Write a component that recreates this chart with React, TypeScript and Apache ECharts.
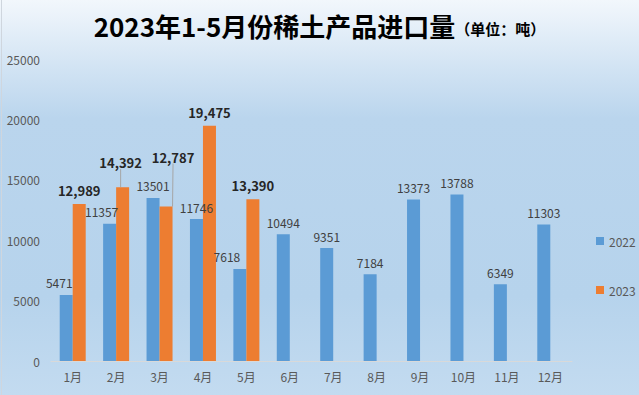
import React, { useEffect, useRef } from "react";
import * as echarts from "echarts";

const months = ["1月", "2月", "3月", "4月", "5月", "6月", "7月", "8月", "9月", "10月", "11月", "12月"];
const values2022 = [5471, 11357, 13501, 11746, 7618, 10494, 9351, 7184, 13373, 13788, 6349, 11303];
const values2023 = [12989, 14392, 12787, 19475, 13390, null, null, null, null, null, null, null];
const seriesNames = ["2022", "2023"];
const titleMain = "2023年1-5月份稀土产品进口量";
const titleUnit = "（单位：吨）";

export default function App() {
  const ref = useRef<HTMLDivElement>(null);
  useEffect(() => {
    const chart = echarts.init(ref.current!, null, { renderer: "svg" });
    const font = "'Noto Sans CJK SC', 'Noto Sans', sans-serif";
    const offsets2022: Record<number, number> = { 0: -7, 1: -8, 4: -13 };
    chart.setOption({
      animation: false,
      backgroundColor: {
        type: "linear",
        x: 0, y: 0, x2: 0, y2: 1,
        colorStops: [
          { offset: 0, color: "#f2f7fc" },
          { offset: 0.3, color: "#bad5ed" },
          { offset: 0.75, color: "#b6d3ec" },
          { offset: 1, color: "#c3dbf0" },
        ],
      },
      title: {
        text: "{a|" + titleMain + "}{b|" + titleUnit + "}",
        left: "center",
        top: 7,
        textStyle: {
          rich: {
            a: { fontFamily: font, fontSize: 26, fontWeight: "bold", color: "#000" },
            b: { fontFamily: font, fontSize: 15, fontWeight: "bold", color: "#000", padding: [6, 0, 0, 0] },
          },
        },
      },
      legend: {
        orient: "vertical",
        left: 591,
        top: 230,
        itemWidth: 8,
        itemHeight: 8,
        itemGap: 37,
        icon: "rect",
        data: seriesNames,
        textStyle: { color: "#595959", fontSize: 12, fontFamily: font },
      },
      grid: { left: 51, right: 67, top: 59, bottom: 34 },
      xAxis: {
        type: "category",
        data: months,
        axisLine: { lineStyle: { color: "#d9d9d9", width: 1 } },
        axisTick: { show: false },
        axisLabel: { color: "#595959", fontSize: 12, fontFamily: font, margin: 9 },
      },
      yAxis: {
        type: "value",
        min: 0,
        max: 25000,
        interval: 5000,
        splitLine: { show: false },
        axisLine: { show: false },
        axisTick: { show: false },
        axisLabel: {
          color: "#595959",
          fontSize: 12,
          fontFamily: font,
          margin: 11,
          formatter: (v: number) => String(v),
        },
      },
      graphic: [
        { type: "line", shape: { x1: 1.5, y1: 0, x2: 1.5, y2: 395 }, style: { stroke: "#cfd6de", lineWidth: 1 } },
      ],
      series: [
        {
          name: seriesNames[0],
          type: "bar",
          barWidth: 13,
          barGap: "0%",
          itemStyle: { color: "#5b9bd5" },
          data: values2022.map((v, i) =>
            offsets2022[i] !== undefined
              ? { value: v, label: { offset: [offsets2022[i], 0] } }
              : v
          ),
          label: {
            show: true,
            position: "top",
            distance: 6,
            color: "#404040",
            fontSize: 12,
            fontFamily: font,
          },
        },
        {
          name: seriesNames[1],
          type: "bar",
          barWidth: 13,
          barGap: "0%",
          itemStyle: { color: "#ed7d31" },
          data: values2023.map((v, i) =>
            i === 1 || i === 2 ? { value: v, labelLine: { show: true } } : v
          ),
          label: {
            show: true,
            position: "top",
            distance: 7,
            color: "#262626",
            fontSize: 13,
            fontWeight: "bold",
            fontFamily: font,
            formatter: (p: any) => (p.value == null ? "" : Number(p.value).toLocaleString("en-US")),
          },
          labelLine: { show: false, lineStyle: { color: "#a6a6a6", width: 1 } },
          labelLayout: (p: any) => {
            if (p.dataIndex === 2) return { dx: 7, dy: -36 };
            if (p.dataIndex === 1) return { dx: -2, dy: -11 };
            return {};
          },
        },
      ],
    });
    return () => chart.dispose();
  }, []);
  return (
    <div
      ref={ref}
      style={{ position: "fixed", left: 0, top: 0, width: 639, height: 395 }}
    />
  );
}
